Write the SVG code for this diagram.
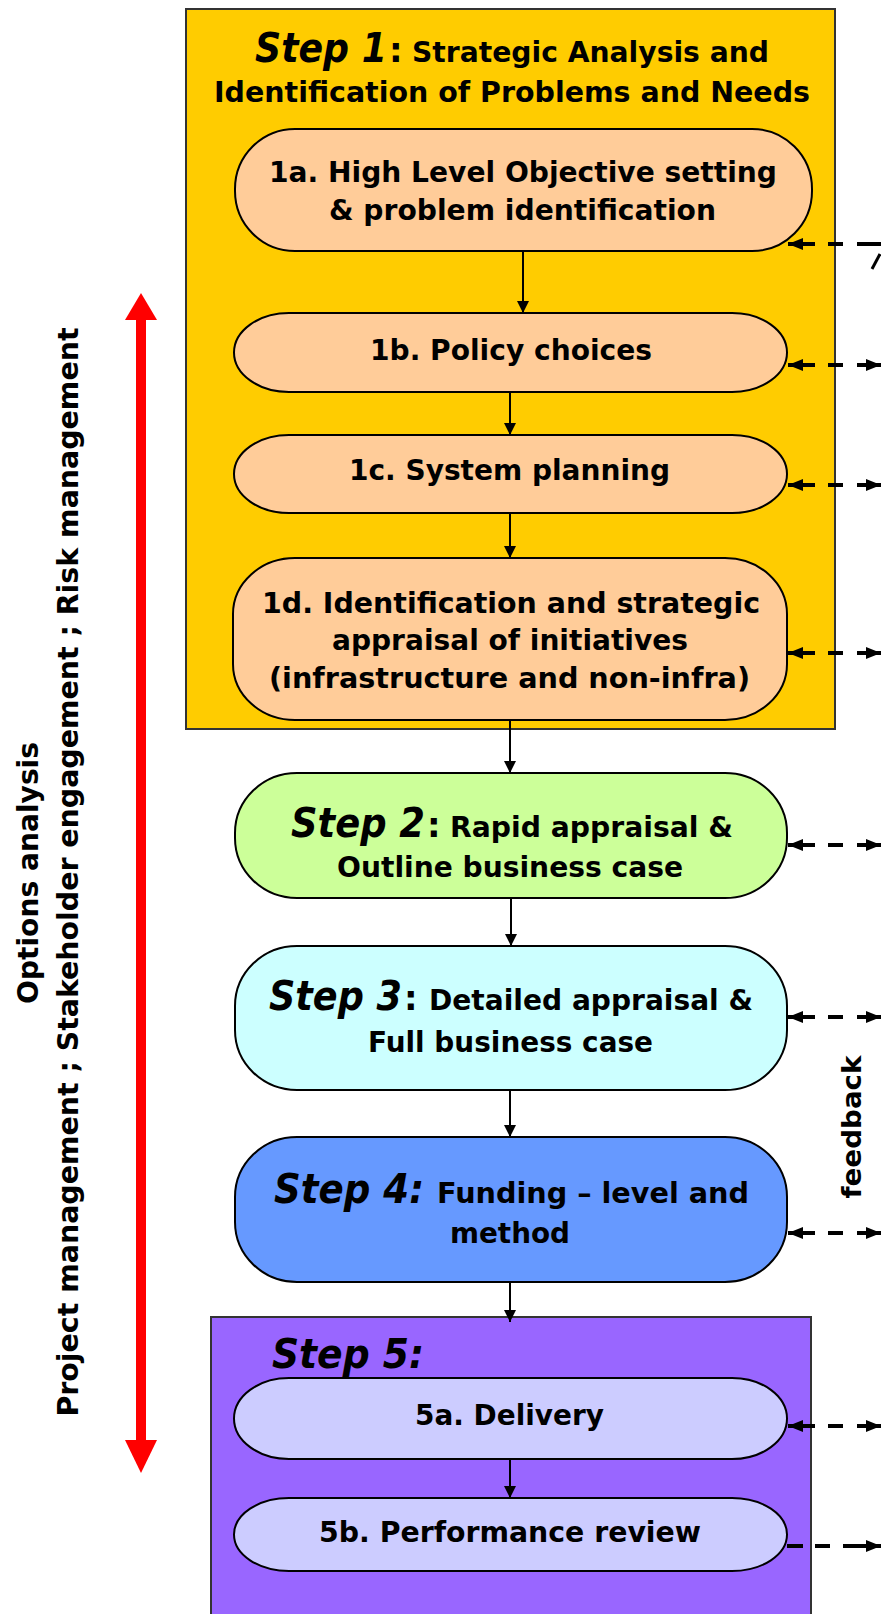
<svg xmlns="http://www.w3.org/2000/svg" width="881" height="1614" viewBox="0 0 881 1614">
<style>
  .t { font-family: "DejaVu Sans", Verdana, sans-serif; font-weight: bold; font-size: 28px; fill: #000; }
  .h { font-family: "DejaVu Sans", Verdana, sans-serif; font-weight: bold; fill: #000; }
  .it { font-style: italic; font-size: 40px; }
  .col { font-style: normal; font-size: 34px; }
  .pill { stroke: #000; stroke-width: 2; }
  .box { stroke: #333; stroke-width: 2; }
  .solid { stroke: #000; stroke-width: 2; fill: none; marker-end: url(#sa); }
  .dash { stroke: #000; stroke-width: 4; fill: none; stroke-dasharray: 27 13 15 14 40; }
  .both { marker-start: url(#da); marker-end: url(#da); }
</style>
<defs>
  <marker id="sa" viewBox="0 0 12 15" refX="12" refY="6" markerWidth="12" markerHeight="15" markerUnits="userSpaceOnUse" orient="auto">
    <path d="M0,0 L12,6 L0,12 z" fill="#000"/>
  </marker>
  <marker id="da" viewBox="0 0 15 12" refX="15" refY="6" markerWidth="15" markerHeight="12" markerUnits="userSpaceOnUse" orient="auto-start-reverse">
    <path d="M0,0 L15,6 L0,12 z" fill="#000"/>
  </marker>
</defs>
<rect width="881" height="1614" fill="#fff"/>

<g id="step1">
  <rect class="box" x="186" y="9" width="649" height="720" fill="#FFCC00"/>
  <text class="t" y="62"><tspan class="it" x="255" textLength="132" lengthAdjust="spacingAndGlyphs">Step 1</tspan><tspan class="col" x="389">:</tspan><tspan x="412" textLength="357" lengthAdjust="spacingAndGlyphs">Strategic Analysis and</tspan></text>
  <text class="t" x="214" y="102" textLength="596" lengthAdjust="spacingAndGlyphs">Identification of Problems and Needs</text>
</g>

<g id="n1a">
  <rect class="pill" x="235" y="129" width="577" height="122" rx="60" ry="60" fill="#FFCC99"/>
  <text class="t" x="269" y="182" textLength="508" lengthAdjust="spacingAndGlyphs">1a. High Level Objective setting</text>
  <text class="t" x="329" y="220" textLength="387" lengthAdjust="spacingAndGlyphs">&amp; problem identification</text>
</g>
<g id="n1b">
  <rect class="pill" x="234" y="313" width="553" height="79" rx="55" ry="39.5" fill="#FFCC99"/>
  <text class="t" x="370" y="360" textLength="282" lengthAdjust="spacingAndGlyphs">1b. Policy choices</text>
</g>
<g id="n1c">
  <rect class="pill" x="234" y="435" width="553" height="78" rx="55" ry="39" fill="#FFCC99"/>
  <text class="t" x="349" y="480" textLength="321" lengthAdjust="spacingAndGlyphs">1c. System planning</text>
</g>
<g id="n1d">
  <rect class="pill" x="233" y="558" width="554" height="162" rx="62" ry="56" fill="#FFCC99"/>
  <text class="t" x="262" y="613" textLength="498" lengthAdjust="spacingAndGlyphs">1d. Identification and strategic</text>
  <text class="t" x="332" y="650" textLength="356" lengthAdjust="spacingAndGlyphs">appraisal of initiatives</text>
  <text class="t" x="269" y="688" textLength="481" lengthAdjust="spacingAndGlyphs">(infrastructure and non-infra)</text>
</g>

<g id="step2">
  <rect class="pill" x="235" y="773" width="552" height="125" rx="62" ry="60" fill="#CCFF99"/>
  <text class="t" y="837"><tspan class="it" x="291" textLength="134" lengthAdjust="spacingAndGlyphs">Step 2</tspan><tspan class="col" x="427">:</tspan><tspan x="450" textLength="283" lengthAdjust="spacingAndGlyphs">Rapid appraisal &amp;</tspan></text>
  <text class="t" x="337" y="877" textLength="346" lengthAdjust="spacingAndGlyphs">Outline business case</text>
</g>

<g id="step3">
  <rect class="pill" x="235" y="946" width="552" height="144" rx="62" ry="60" fill="#CCFFFF"/>
  <text class="t" y="1010"><tspan class="it" x="269" textLength="133" lengthAdjust="spacingAndGlyphs">Step 3</tspan><tspan class="col" x="404">:</tspan><tspan x="429" textLength="324" lengthAdjust="spacingAndGlyphs">Detailed appraisal &amp;</tspan></text>
  <text class="t" x="368" y="1052" textLength="285" lengthAdjust="spacingAndGlyphs">Full business case</text>
</g>

<g id="step4">
  <rect class="pill" x="235" y="1137" width="552" height="145" rx="62" ry="60" fill="#6699FF"/>
  <text class="t" y="1203"><tspan class="it" x="274" textLength="150" lengthAdjust="spacingAndGlyphs">Step 4:</tspan><tspan x="437" textLength="312" lengthAdjust="spacingAndGlyphs">Funding – level and</tspan></text>
  <text class="t" x="450" y="1243" textLength="120" lengthAdjust="spacingAndGlyphs">method</text>
</g>

<g id="step5">
  <rect class="box" x="211" y="1317" width="600" height="310" fill="#9966FF"/>
  <text class="h it" x="272" y="1368" textLength="152" lengthAdjust="spacingAndGlyphs">Step 5:</text>
</g>
<g id="n5a">
  <rect class="pill" x="234" y="1378" width="553" height="81" rx="55" ry="40.5" fill="#CCCCFF"/>
  <text class="t" x="415" y="1425" textLength="189" lengthAdjust="spacingAndGlyphs">5a. Delivery</text>
</g>
<g id="n5b">
  <rect class="pill" x="234" y="1498" width="553" height="73" rx="55" ry="36.5" fill="#CCCCFF"/>
  <text class="t" x="319" y="1542" textLength="382" lengthAdjust="spacingAndGlyphs">5b. Performance review</text>
</g>

<g id="side-labels">
  <text class="t" transform="translate(38,873) rotate(-90)" text-anchor="middle" textLength="262" lengthAdjust="spacingAndGlyphs">Options analysis</text>
  <text class="t" transform="translate(78,872) rotate(-90)" text-anchor="middle" textLength="1089" lengthAdjust="spacingAndGlyphs">Project management ; Stakeholder engagement ; Risk management</text>
  <text class="t" style="font-size:26px" transform="translate(861,1127) rotate(-90)" text-anchor="middle" textLength="143" lengthAdjust="spacingAndGlyphs">feedback</text>
</g>

<g id="connectors">
  <line class="solid" x1="523" y1="251" x2="523" y2="313"/>
  <line class="solid" x1="510" y1="392" x2="510" y2="435"/>
  <line class="solid" x1="510" y1="513" x2="510" y2="558"/>
  <line class="solid" x1="510" y1="720" x2="510" y2="773"/>
  <line class="solid" x1="511" y1="898" x2="511" y2="946"/>
  <line class="solid" x1="510" y1="1090" x2="510" y2="1137"/>
  <line class="solid" x1="510" y1="1282" x2="510" y2="1322"/>
  <line class="solid" x1="510" y1="1459" x2="510" y2="1498"/>

  <line class="dash" x1="788" y1="244" x2="881" y2="244" marker-start="url(#da)"/>
  <line x1="872" y1="269" x2="880" y2="254" stroke="#000" stroke-width="3"/>
  <line class="dash both" x1="788" y1="365" x2="881" y2="365"/>
  <line class="dash both" x1="788" y1="485" x2="881" y2="485"/>
  <line class="dash both" x1="788" y1="653" x2="881" y2="653"/>
  <line class="dash both" x1="788" y1="845" x2="881" y2="845"/>
  <line class="dash both" x1="788" y1="1017" x2="881" y2="1017"/>
  <line class="dash both" x1="788" y1="1233" x2="881" y2="1233"/>
  <line class="dash both" x1="788" y1="1426" x2="881" y2="1426"/>
  <line class="dash" style="stroke-dasharray:16 12 15 13 40" x1="787" y1="1546" x2="881" y2="1546" marker-end="url(#da)"/>

  <g id="red-arrow" fill="#FF0000">
    <rect x="136" y="318" width="10" height="1124"/>
    <polygon points="141,293 125,320 157,320"/>
    <polygon points="141,1473 125,1440 157,1440"/>
  </g>
</g>
</svg>
